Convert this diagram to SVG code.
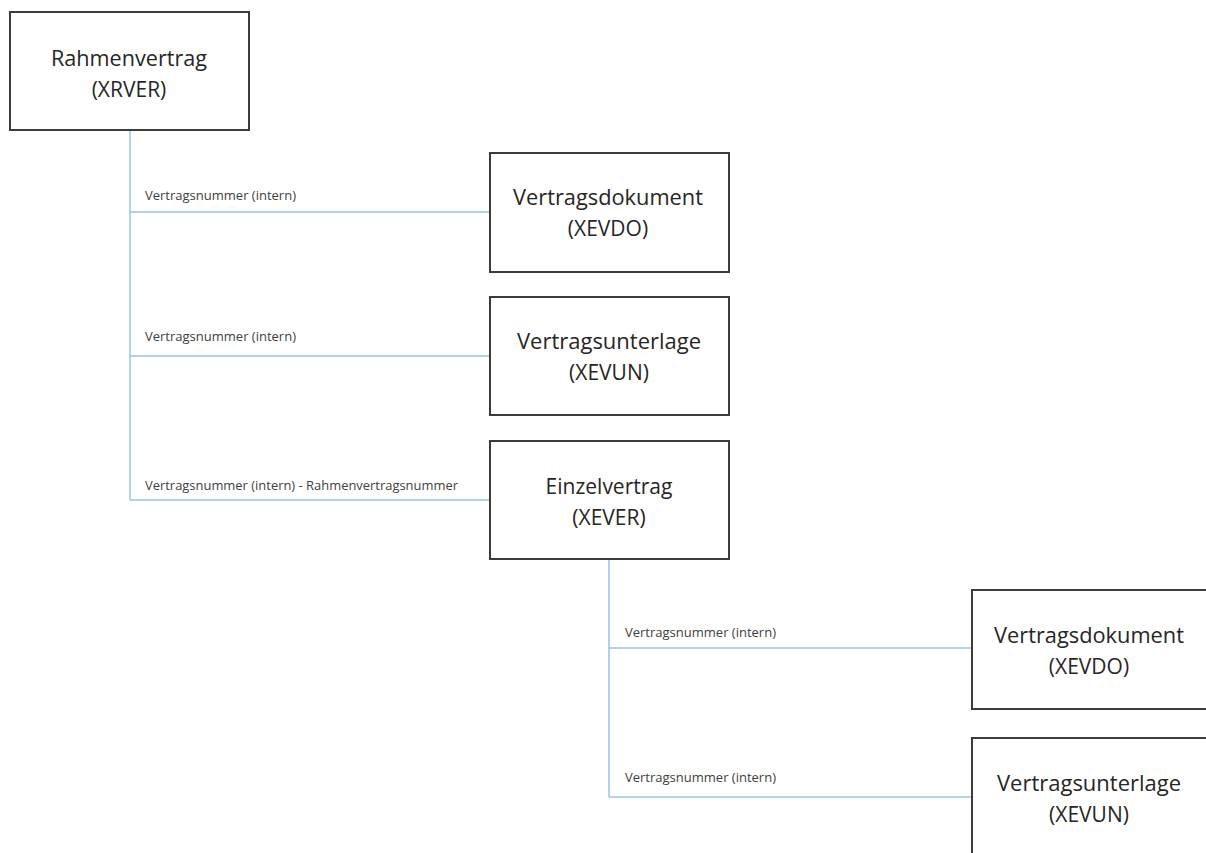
<svg xmlns="http://www.w3.org/2000/svg" width="1206" height="853" viewBox="0 0 1206 853">
<style>
.box{fill:#fff;stroke:#3c3c3c;stroke-width:2}
.bt{font-family:"Open Sans","Liberation Sans",sans-serif;font-size:21px;fill:#262626;text-anchor:middle}
.con{fill:none;stroke:#9dc3e6;stroke-width:1.5}
.lb{font-family:"Open Sans","Liberation Sans",sans-serif;font-size:12px;fill:#404040}
</style>
<rect width="1206" height="853" fill="#fff"/>
<g id="connectors">
<path class="con" d="M130 130V500M130 212H490M130 356H490M130 500H490"/>
<path class="con" d="M609 559V797M609 648H972M609 797H972"/>
<text class="lb" x="145" y="200" textLength="151" lengthAdjust="spacingAndGlyphs">Vertragsnummer (intern)</text>
<text class="lb" x="145" y="341" textLength="151" lengthAdjust="spacingAndGlyphs">Vertragsnummer (intern)</text>
<text class="lb" x="145" y="490" textLength="313" lengthAdjust="spacingAndGlyphs">Vertragsnummer (intern) - Rahmenvertragsnummer</text>
<text class="lb" x="625" y="637" textLength="151" lengthAdjust="spacingAndGlyphs">Vertragsnummer (intern)</text>
<text class="lb" x="625" y="782" textLength="151" lengthAdjust="spacingAndGlyphs">Vertragsnummer (intern)</text>
</g>
<g id="n-xrver">
<rect class="box" x="10" y="12" width="239" height="118"/>
<text class="bt" x="129" y="66" textLength="156" lengthAdjust="spacingAndGlyphs">Rahmenvertrag</text>
<text class="bt" x="129" y="97">(XRVER)</text>
</g>
<g id="n-xevdo1">
<rect class="box" x="490" y="153" width="239" height="119"/>
<text class="bt" x="608" y="205" textLength="190" lengthAdjust="spacingAndGlyphs">Vertragsdokument</text>
<text class="bt" x="608" y="236">(XEVDO)</text>
</g>
<g id="n-xevun1">
<rect class="box" x="490" y="297" width="239" height="118"/>
<text class="bt" x="609" y="349" textLength="184" lengthAdjust="spacingAndGlyphs">Vertragsunterlage</text>
<text class="bt" x="609" y="380">(XEVUN)</text>
</g>
<g id="n-xever">
<rect class="box" x="490" y="441" width="239" height="118"/>
<text class="bt" x="609" y="494">Einzelvertrag</text>
<text class="bt" x="609" y="525">(XEVER)</text>
</g>
<g id="n-xevdo2">
<rect class="box" x="972" y="590" width="240" height="119"/>
<text class="bt" x="1089" y="643" textLength="190" lengthAdjust="spacingAndGlyphs">Vertragsdokument</text>
<text class="bt" x="1089" y="674">(XEVDO)</text>
</g>
<g id="n-xevun2">
<rect class="box" x="972" y="738" width="240" height="125"/>
<text class="bt" x="1089" y="791" textLength="184" lengthAdjust="spacingAndGlyphs">Vertragsunterlage</text>
<text class="bt" x="1089" y="822">(XEVUN)</text>
</g>
</svg>
